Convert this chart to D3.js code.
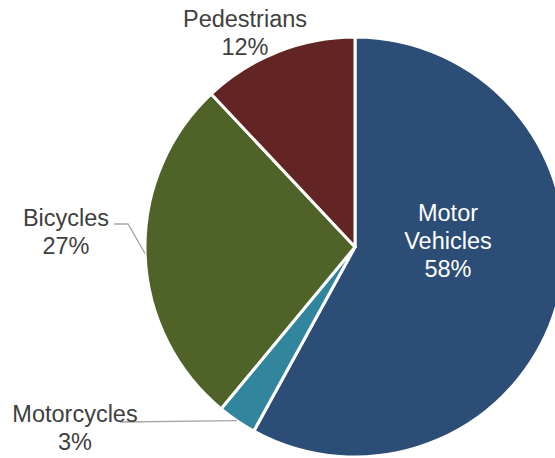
<!DOCTYPE html>
<html>
<head>
<meta charset="utf-8">
<script src="https://d3js.org/d3.v7.min.js"></script>
<style>
  body { margin: 0; background: #fff; }
  svg { display: block; }
</style>
</head>
<body>
<div id="chart"></div>
<script>
// pie chart - road user share

const categories = ['Motor Vehicles', 'Motorcycles', 'Bicycles', 'Pedestrians'];
const shares = [58, 3, 27, 12];
const sliceColors = ['#2c4d75', '#31859c', '#4f6228', '#632523'];

const width = 555, height = 458;
const cx = 355, cy = 247, radius = 210;

// label placement (offsets from pie centre) and text colour
const labelLayout = {
    'Motor Vehicles': { dx: 93, dy: -26, lines: ['Motor', 'Vehicles'], color: '#fff', leader: null },
    'Motorcycles': { dx: -280, dy: 175, lines: ['Motorcycles'], color: '#404040', leader: { x: -235, y: 175, elbow: null } },
    'Bicycles': { dx: -289, dy: -21, lines: ['Bicycles'], color: '#404040', leader: { x: -241, y: -23, elbow: { x: -227, y: -23 } } },
    'Pedestrians': { dx: -110, dy: -220, lines: ['Pedestrians'], color: '#404040', leader: null }
};

const data = categories.map((c, i) => ({ name: c, value: shares[i], color: sliceColors[i] }));

const svg = d3.select('#chart').append('svg')
    .attr('width', width)
    .attr('height', height);

const g = svg.append('g')
    .attr('transform', `translate(${cx}, ${cy})`);

const pie = d3.pie()
    .value(d => d.value)
    .sort(null);

const arc = d3.arc()
    .innerRadius(0)
    .outerRadius(radius);

const arcs = pie(data);

g.selectAll('.slice')
    .data(arcs)
    .join('path')
    .attr('class', 'slice')
    .attr('d', arc)
    .attr('fill', d => d.data.color)
    .attr('stroke', '#fff')
    .attr('stroke-width', 3)
    .attr('stroke-linejoin', 'round');

// leader lines end on the rim at the slice's mid angle
arcs.forEach(d => {
    const lay = labelLayout[d.data.name];
    if (!lay.leader) return;
    const mid = (d.startAngle + d.endAngle) / 2;
    const rim = [radius * Math.sin(mid), -radius * Math.cos(mid)];
    const pts = [[lay.leader.x, lay.leader.y]];
    if (lay.leader.elbow) pts.push([lay.leader.elbow.x, lay.leader.elbow.y]);
    pts.push(rim);
    g.append('path')
        .attr('d', d3.line()(pts))
        .attr('fill', 'none')
        .attr('stroke', '#a6a6a6')
        .attr('stroke-width', 1.3);
});

// labels
arcs.forEach(d => {
    const lay = labelLayout[d.data.name];
    const lines = lay.lines.concat([`${d.data.value}%`]);
    const t = g.append('text')
        .attr('x', lay.dx)
        .attr('y', lay.dy)
        .attr('text-anchor', 'middle')
        .attr('font-family', 'Liberation Sans, Arial, sans-serif')
        .attr('font-size', '23.5px')
        .attr('fill', lay.color);
    lines.forEach((l, i) => {
        t.append('tspan')
            .attr('x', lay.dx)
            .attr('dy', i === 0 ? 0 : 28)
            .text(l);
    });
});
</script>
</body>
</html>
